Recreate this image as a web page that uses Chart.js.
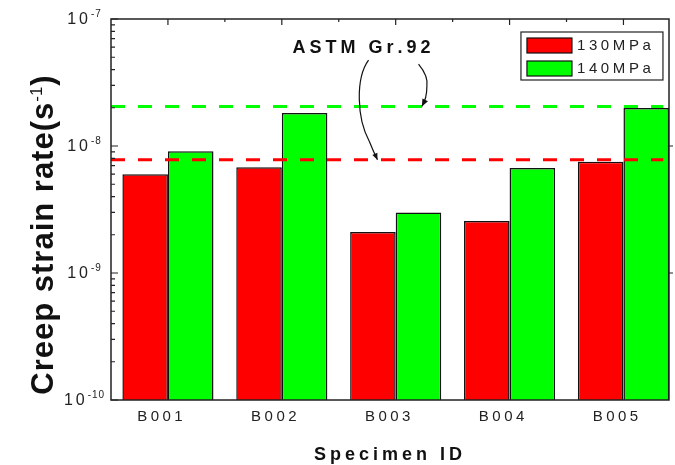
<!DOCTYPE html>
<html>
<head>
<meta charset="utf-8">
<script src="https://cdn.jsdelivr.net/npm/chart.js@4/dist/chart.umd.min.js"></script>
<style>
  html, body { margin: 0; padding: 0; background: #fff; }
</style>
</head>
<body>
<canvas id="creepChart" width="675" height="465"></canvas>
<script>
// values
const specimens = ['B001', 'B002', 'B003', 'B004', 'B005'];
const seriesLabels = ['130MPa', '140MPa'];
const rate130 = [6.0e-9, 6.8e-9, 2.1e-9, 2.57e-9, 7.5e-9];
const rate140 = [9.1e-9, 1.82e-8, 3.0e-9, 6.7e-9, 1.99e-8];
const astmLimit130 = 7.8e-9;
const astmLimit140 = 2.05e-8;
const yTickValues = [1e-10, 1e-9, 1e-8, 1e-7];
const yTickExponents = ['-10', '-9', '-8', '-7'];
const annotationText = 'ASTM Gr.92';

const FONT = '"Liberation Sans", Arial, sans-serif';

function spacedWidth(ctx, text, sp) {
    let w = 0;
    for (const ch of text) w += ctx.measureText(ch).width + sp;
    return w - sp;
}

function drawSpaced(ctx, text, x, y, sp, align) {
    const w = spacedWidth(ctx, text, sp);
    let cx = align === 'center' ? x - w / 2 : align === 'right' ? x - w : x;
    ctx.textAlign = 'left';
    for (const ch of text) {
        ctx.fillText(ch, cx, y);
        cx += ctx.measureText(ch).width + sp;
    }
    return w;
}

function arrowHead(ctx, x, y, fromX, fromY, size) {
    const a = Math.atan2(y - fromY, x - fromX);
    ctx.beginPath();
    ctx.moveTo(x, y);
    ctx.lineTo(x - size * Math.cos(a - 0.4), y - size * Math.sin(a - 0.4));
    ctx.lineTo(x - size * Math.cos(a + 0.4), y - size * Math.sin(a + 0.4));
    ctx.closePath();
    ctx.fill();
}

const decorations = {
    id: 'decorations',
    afterDraw(chart) {
        const ctx = chart.ctx;
        const xs = chart.scales.x;
        const ys = chart.scales.y;
        const area = chart.chartArea;
        ctx.save();

        // frame
        ctx.strokeStyle = '#222';
        ctx.lineWidth = 1.5;
        ctx.strokeRect(area.left, area.top, area.right - area.left, area.bottom - area.top);

        // top ticks (inward)
        ctx.lineWidth = 1.2;
        ctx.beginPath();
        specimens.forEach((s, i) => {
            const px = xs.getPixelForValue(i + 1);
            ctx.moveTo(px, area.top);
            ctx.lineTo(px, area.top + 6);
            if (i > 0) {
                const pm = xs.getPixelForValue(i + 0.5);
                ctx.moveTo(pm, area.top);
                ctx.lineTo(pm, area.top + 3);
            }
        });
        // left ticks (inward), right ticks (outward)
        for (let k = 0; k < yTickValues.length; k++) {
            const v = yTickValues[k];
            const py = ys.getPixelForValue(v);
            ctx.moveTo(area.left, py);
            ctx.lineTo(area.left + 7, py);
            if (k > 0 && k < yTickValues.length - 1) {
                ctx.moveTo(area.right, py);
                ctx.lineTo(area.right + 4, py);
            }
            if (k < yTickValues.length - 1) {
                for (let m = 2; m <= 9; m++) {
                    const pm = ys.getPixelForValue(v * m);
                    ctx.moveTo(area.left, pm);
                    ctx.lineTo(area.left + 4, pm);
                }
            }
        }
        ctx.stroke();

        // y tick labels 10^n
        ctx.fillStyle = '#222';
        ctx.textBaseline = 'middle';
        yTickValues.forEach((v, k) => {
            const py = ys.getPixelForValue(v);
            ctx.font = '10px ' + FONT;
            const supW = spacedWidth(ctx, yTickExponents[k], 1);
            ctx.font = '16px ' + FONT;
            const baseW = spacedWidth(ctx, '10', 3);
            const total = baseW + 3 + supW;
            const start = 84 - total / 2;
            drawSpaced(ctx, '10', start, py + 1, 3, 'left');
            ctx.font = '10px ' + FONT;
            drawSpaced(ctx, yTickExponents[k], start + baseW + 3, py - 5, 1, 'left');
        });

        // x tick labels
        ctx.font = '15px ' + FONT;
        ctx.textBaseline = 'alphabetic';
        specimens.forEach((s, i) => {
            drawSpaced(ctx, s, xs.getPixelForValue(i + 1) - 8, 421, 3.5, 'center');
        });

        // x title
        ctx.fillStyle = '#111';
        ctx.font = 'bold 18px ' + FONT;
        drawSpaced(ctx, 'Specimen ID', 388, 460, 4, 'center');

        // y title
        ctx.save();
        ctx.translate(53, 235);
        ctx.rotate(-Math.PI / 2);
        ctx.font = 'bold 31px ' + FONT;
        const t1 = 'Creep strain rate(s';
        const w1 = spacedWidth(ctx, t1, 1);
        const w3 = ctx.measureText(')').width;
        ctx.font = '17px ' + FONT;
        const w2 = ctx.measureText('-1').width;
        const tot = w1 + 1 + w2 + 1 + w3;
        let cx = -tot / 2;
        ctx.font = 'bold 31px ' + FONT;
        drawSpaced(ctx, t1, cx, 0, 1, 'left');
        cx += w1 + 1;
        ctx.font = '17px ' + FONT;
        ctx.fillText('-1', cx, -11);
        cx += w2 + 1;
        ctx.font = 'bold 31px ' + FONT;
        ctx.fillText(')', cx, 0);
        ctx.restore();

        // annotation text and arrows
        const tx = xs.getPixelForValue(2.7);
        const ty = ys.getPixelForValue(5.9e-8);
        ctx.font = 'bold 18px ' + FONT;
        ctx.textBaseline = 'middle';
        drawSpaced(ctx, annotationText, tx, ty, 4, 'center');

        ctx.strokeStyle = '#111';
        ctx.fillStyle = '#111';
        ctx.lineWidth = 1.2;
        const lx = xs.getPixelForValue(2.84);
        const ly = ys.getPixelForValue(astmLimit130);
        ctx.beginPath();
        ctx.moveTo(tx + 7, ty + 12);
        ctx.bezierCurveTo(tx - 6, ty + 30, tx - 5, ty + 70, lx - 8, ly - 18);
        ctx.quadraticCurveTo(lx - 4, ly - 8, lx, ly);
        ctx.stroke();
        arrowHead(ctx, lx, ly, lx - 4, ly - 9, 7);

        const rx = xs.getPixelForValue(3.23);
        const ry = ys.getPixelForValue(astmLimit140);
        ctx.beginPath();
        ctx.moveTo(tx + 57, ty + 16);
        ctx.quadraticCurveTo(tx + 67, ty + 28, rx + 5, ry - 20);
        ctx.quadraticCurveTo(rx + 5, ry - 8, rx, ry);
        ctx.stroke();
        arrowHead(ctx, rx, ry, rx + 4, ry - 8, 8);

        // legend
        const bars = chart.data.datasets.filter(d => d.type === 'bar');
        const lgLeft = xs.getPixelForValue(4.1);
        const lgTop = ys.getPixelForValue(7.9e-8);
        ctx.lineWidth = 1.2;
        ctx.strokeStyle = '#222';
        ctx.strokeRect(lgLeft, lgTop, 142, 48);
        ctx.font = '15px ' + FONT;
        ctx.textBaseline = 'middle';
        bars.forEach((d, i) => {
            const sy = lgTop + 6 + i * 23;
            ctx.fillStyle = d.backgroundColor;
            ctx.fillRect(lgLeft + 6, sy, 45, 15);
            ctx.strokeStyle = '#111';
            ctx.strokeRect(lgLeft + 6, sy, 45, 15);
            ctx.fillStyle = '#222';
            drawSpaced(ctx, d.label, lgLeft + 56, sy + 8, 3.6, 'left');
        });

        ctx.restore();
    }
};

const toPoints = arr => arr.map((v, i) => ({ x: i + 1, y: v }));

new Chart(document.getElementById('creepChart'), {
    type: 'bar',
    data: {
        datasets: [
            {
                type: 'line',
                label: 'ASTM 140',
                data: [{ x: 0.5, y: astmLimit140 }, { x: 5.35, y: astmLimit140 }],
                borderColor: '#00ff00',
                borderWidth: 3,
                borderDash: [14, 13],
                pointRadius: 0,
                fill: false,
                order: 0
            },
            {
                type: 'line',
                label: 'ASTM 130',
                data: [{ x: 0.5, y: astmLimit130 }, { x: 5.35, y: astmLimit130 }],
                borderColor: '#ff0000',
                borderWidth: 3,
                borderDash: [14, 13],
                pointRadius: 0,
                fill: false,
                order: 0
            },
            {
                type: 'bar',
                label: seriesLabels[0],
                data: toPoints(rate130),
                backgroundColor: '#ff0000',
                borderColor: '#111',
                borderWidth: 1.5,
                categoryPercentage: 0.8,
                barPercentage: 1.0,
                order: 1
            },
            {
                type: 'bar',
                label: seriesLabels[1],
                data: toPoints(rate140),
                backgroundColor: '#00ff00',
                borderColor: '#111',
                borderWidth: 1.5,
                categoryPercentage: 0.8,
                barPercentage: 1.0,
                order: 1
            }
        ]
    },
    options: {
        responsive: false,
        animation: false,
        layout: { padding: { left: 111, top: 19, right: 6, bottom: 65 } },
        plugins: {
            legend: { display: false },
            tooltip: { enabled: false }
        },
        scales: {
            x: {
                type: 'linear',
                display: false,
                min: 0.5,
                max: 5.4,
                offset: false,
                afterBuildTicks: s => { s.ticks = specimens.map((_, i) => ({ value: i + 1 })); }
            },
            y: {
                type: 'logarithmic',
                display: false,
                min: 1e-10,
                max: 1e-7
            }
        }
    },
    plugins: [decorations]
});
</script>
</body>
</html>
